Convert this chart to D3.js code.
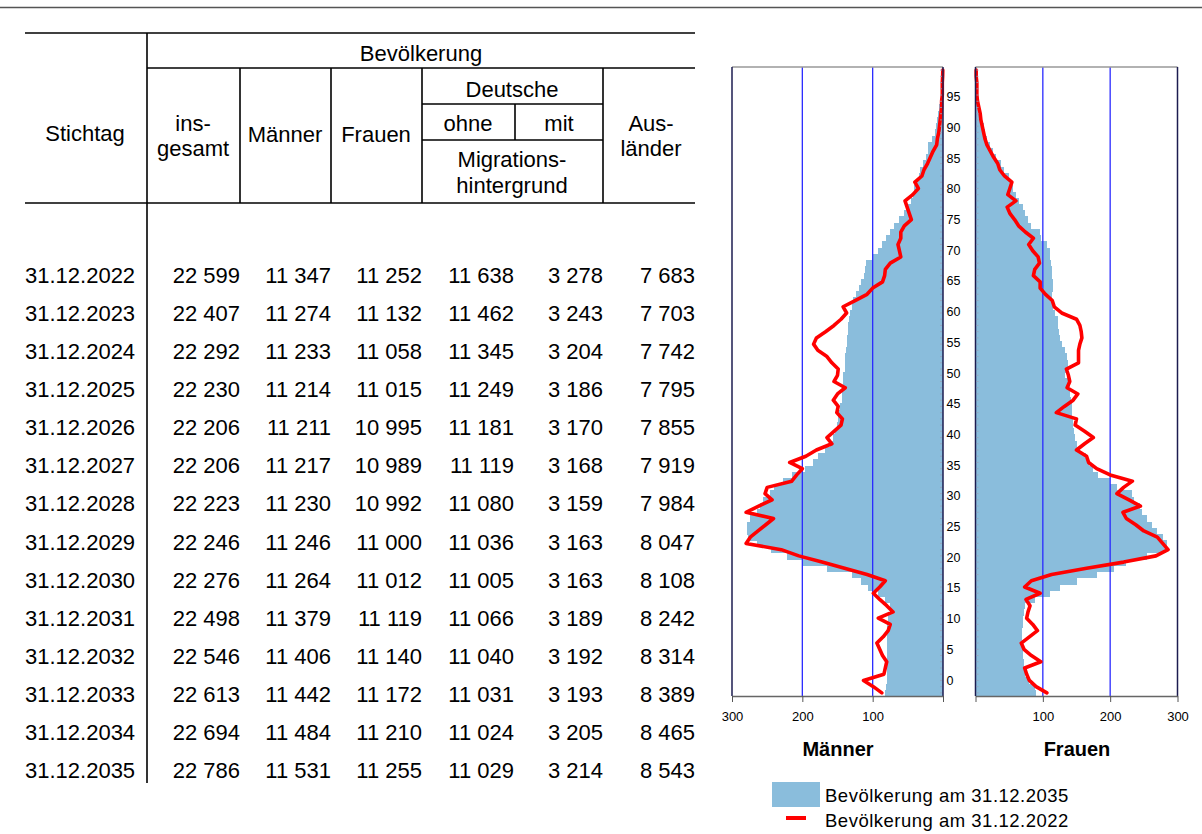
<!DOCTYPE html>
<html><head><meta charset="utf-8">
<script src="https://cdn.jsdelivr.net/npm/d3@7"></script>
<style>
body{margin:0;background:#fff}
svg{display:block}
text{font-family:"Liberation Sans",Arial,sans-serif;fill:#000}
</style>
</head><body>
<svg id="chart" width="1202" height="834"></svg>
<script>
// ---------- table data ----------
const stichtag = ["31.12.2022","31.12.2023","31.12.2024","31.12.2025","31.12.2026","31.12.2027","31.12.2028","31.12.2029","31.12.2030","31.12.2031","31.12.2032","31.12.2033","31.12.2034","31.12.2035"];
const insgesamt = [22599,22407,22292,22230,22206,22206,22223,22246,22276,22498,22546,22613,22694,22786];
const maenner = [11347,11274,11233,11214,11211,11217,11230,11246,11264,11379,11406,11442,11484,11531];
const frauen = [11252,11132,11058,11015,10995,10989,10992,11000,11012,11119,11140,11172,11210,11255];
const deutscheOhne = [11638,11462,11345,11249,11181,11119,11080,11036,11005,11066,11040,11031,11024,11029];
const deutscheMit = [3278,3243,3204,3186,3170,3168,3159,3163,3163,3189,3192,3193,3205,3214];
const auslaender = [7683,7703,7742,7795,7855,7919,7984,8047,8108,8242,8314,8389,8465,8543];

// ---------- pyramid data (ages 0..100) ----------
const ages = d3.range(0, 101);
const maenner2035 = [82,81,80,80,80,80,80,80,80,80, 80,79,78,75,76,82,92,106,116,130,
  165,200,222,244,265,277,279,279,275,265, 260,256,246,240,227,215,196,185,178,168,
  161,156,153,151,150,149,146,144,144,143, 142,142,140,139,139,138,137,136,135,135,
  134,132,130,128,124,120,116,113,111,110, 101,92,87,81,76,70,62,56,50,46,
  43,41,37,34,32,29,24,22,21,15, 12,10,8,7,5,4,3,2,2,1, 1];
const frauen2035 = [90,88,80,73,72,72,71,70,70,69, 69,70,71,72,74,88,110,125,150,180,
  205,224,254,283,284,278,270,262,255,248, 244,236,232,210,200,182,175,168,164,155,
  150,148,146,145,145,144,143,142,140,140, 139,133,138,138,136,133,128,126,124,123,
  122,118,115,113,114,115,115,113,113,112, 110,110,106,98,96,83,78,73,70,64,
  60,56,53,50,42,38,30,26,22,17, 14,12,10,7,5,4,3,2,1,1, 0.5];
const maenner2022 = [87,99,113,84,82,80,86,90,94,85, 78,75,92,71,80,90,99,90,82,108,
  140,172,205,230,280,274,263,252,241,280, 262,243,253,250,215,208,200,218,195,180,
  158,165,155,145,143,151,149,156,150,139, 155,150,149,158,165,178,184,180,167,155,
  145,137,142,125,108,100,86,83,82,75, 60,62,64,60,60,55,45,48,51,54,
  43,35,40,30,27,22,18,14,9,8, 6,5,4,3,2,2,1,1,1,0.5, 0.3];
const frauen2022 = [106,90,80,76,73,97,83,72,68,80, 92,85,76,78,81,75,96,73,83,113,
  165,220,268,286,278,270,250,238,224,219, 245,228,210,220,233,200,180,168,165,150,
  162,175,162,148,150,120,132,145,152,136, 140,138,135,153,153,153,155,158,157,155,
  150,128,117,114,104,96,96,86,88,95, 93,85,79,86,74,64,58,51,47,60,
  48,51,54,43,36,33,27,22,17,14, 12,10,8,7,5,3,2,2,2,1, 1];
const ageTicks = d3.range(0, 100, 5);
const valueTicks = [0, 100, 200, 300];
const valueLabels = [100, 200, 300];
const legendLabels = ["Bevölkerung am 31.12.2035", "Bevölkerung am 31.12.2022"];

const svg = d3.select("#chart");
const FONT = '"Liberation Sans",Arial,sans-serif';

// top rule
svg.append("line").attr("x1",0).attr("x2",1202).attr("y1",7.5).attr("y2",7.5)
  .attr("stroke","#555").attr("stroke-width",1.5);

// ---------- TABLE ----------
const tbl = svg.append("g");
const ln = (x1,y1,x2,y2) => tbl.append("line").attr("x1",x1).attr("y1",y1).attr("x2",x2).attr("y2",y2)
  .attr("stroke","#000").attr("stroke-width",1.6);
ln(25,33,695,33);
ln(147,68,695,68);
ln(25,203,695,203);
ln(147,33,147,783);
[240,331,422,603].forEach(x => ln(x,68,x,203));
ln(422,104,603,104);
ln(422,140,603,140);
ln(515,104,515,140);

const TF = 22;
const hdr = [
  ["Stichtag",85,141],["Bevölkerung",421,61],["ins-",193,131],["gesamt",193,156],
  ["Männer",285,142],["Frauen",376,142],["Deutsche",512,97],["ohne",468,131],["mit",559,131],
  ["Migrations-",512,167],["hintergrund",512,193],["Aus-",651,131],["länder",651,156]
];
tbl.selectAll("text.h").data(hdr).join("text").attr("class","h")
  .attr("x",d=>d[1]).attr("y",d=>d[2]).attr("text-anchor","middle")
  .attr("font-size",TF).text(d=>d[0]);

const loc = d3.formatLocale({decimal:",",thousands:"\u00a0",grouping:[3],currency:["",""]});
const fmt = loc.format(",d");
const rowY = d3.scaleLinear().domain([0,13]).range([283,778]);
tbl.selectAll("text.d").data(stichtag).join("text").attr("class","d")
  .attr("x",25).attr("y",(d,i)=>rowY(i)).attr("font-size",TF).text(d=>d);
const cols = [[insgesamt,240],[maenner,331],[frauen,422],[deutscheOhne,514],[deutscheMit,603],[auslaender,695]];
cols.forEach(([arr,xr]) => {
  tbl.append("g").selectAll("text").data(arr).join("text")
    .attr("x",xr).attr("y",(d,i)=>rowY(i)).attr("text-anchor","end")
    .attr("font-size",TF).text(d=>fmt(d));
});

// ---------- PYRAMID ----------
const pTop = 67, pBottom = 696;
const ageY = d3.scaleLinear().domain([-0.5,100.5]).range([pBottom, pTop]);
const labelY = d3.scaleLinear().domain([0,95]).range([680,96.7]);
const xM = d3.scaleLinear().domain([0,300]).range([943,732]);
const xF = d3.scaleLinear().domain([0,300]).range([975.5,1177.5]);
const BLUE = "#8abddc";

function panel(x, vals2035, vals2022, isMale) {
  const g = svg.append("g");
  const x0 = x(0), x3 = x(300);
  const left = Math.min(x0,x3), right = Math.max(x0,x3);
  g.append("rect").attr("x",left).attr("y",pTop).attr("width",right-left).attr("height",pBottom-pTop).attr("fill","#fff");
  g.selectAll("rect.bar").data(ages).join("rect").attr("class","bar")
    .attr("x",a => Math.min(x(0), x(vals2035[a])))
    .attr("width",a => Math.abs(x(vals2035[a]) - x(0)))
    .attr("y",a => ageY(a+0.5))
    .attr("height",a => ageY(a-0.5) - ageY(a+0.5) + 0.6)
    .attr("fill",BLUE).attr("shape-rendering","crispEdges");
  g.selectAll("line.grid").data([100,200]).join("line").attr("class","grid")
    .attr("x1",d=>x(d)).attr("x2",d=>x(d)).attr("y1",pTop).attr("y2",pBottom)
    .attr("stroke","#2a2aff").attr("stroke-width",1.3);
  g.append("path").datum(ages)
    .attr("d", d3.line().x(a => x(vals2022[a])).y(a => ageY(a)))
    .attr("fill","none").attr("stroke","#ff0000").attr("stroke-width",3.6)
    .attr("stroke-linejoin","round").attr("stroke-linecap","round");
  g.append("line").attr("x1",left).attr("x2",right).attr("y1",pTop).attr("y2",pTop).attr("stroke","#999").attr("stroke-width",1.5);
  g.append("line").attr("x1",left).attr("x2",left).attr("y1",pTop).attr("y2",pBottom).attr("stroke","#1c1c50").attr("stroke-width",1.5);
  g.append("line").attr("x1",right).attr("x2",right).attr("y1",pTop).attr("y2",pBottom).attr("stroke","#1c1c50").attr("stroke-width",1.5);
  const ax = isMale ? right : left;
  const dir = isMale ? -1 : 1;
  g.selectAll("line.at").data(ages).join("line").attr("class","at")
    .attr("x1",ax+dir*1).attr("x2",ax+dir*3).attr("y1",a=>ageY(a)).attr("y2",a=>ageY(a))
    .attr("stroke","#9aa0b8").attr("stroke-width",0.8);
  const axis = d3.axisBottom(x)
    .tickValues(valueTicks).tickSize(6).tickSizeOuter(0)
    .tickFormat(d => valueLabels.includes(d) ? d : "");
  const ag = g.append("g").attr("transform",`translate(0,${pBottom})`).call(axis);
  ag.select(".domain").attr("stroke","#666").attr("stroke-width",1.5);
  ag.selectAll(".tick line").attr("stroke","#555").attr("stroke-width",1);
  ag.selectAll(".tick text").attr("font-family",FONT).attr("font-size",13).attr("fill","#222").attr("dy","1.2em");
}
panel(xM, maenner2035, maenner2022, true);
panel(xF, frauen2035, frauen2022, false);

svg.append("g").selectAll("text").data(ageTicks).join("text")
  .attr("x",946.5).attr("y",d=>labelY(d)).attr("dy","0.36em")
  .attr("font-size",12.5).attr("fill","#222").text(d=>d);

svg.append("text").attr("x",838).attr("y",756).attr("text-anchor","middle")
  .attr("font-size",20).attr("font-weight","bold").text("Männer");
svg.append("text").attr("x",1077).attr("y",756).attr("text-anchor","middle")
  .attr("font-size",20).attr("font-weight","bold").text("Frauen");

const lg = svg.append("g");
lg.append("rect").attr("x",772).attr("y",782).attr("width",48).attr("height",25).attr("fill",BLUE);
lg.append("line").attr("x1",786).attr("x2",806).attr("y1",818).attr("y2",818)
  .attr("stroke","#ff0000").attr("stroke-width",4);
lg.selectAll("text").data(legendLabels).join("text")
  .attr("x",825).attr("y",(d,i)=>802+i*25).attr("font-size",18.5).attr("letter-spacing",0.5)
  .attr("fill","#222").text(d=>d);
</script>
</body></html>
